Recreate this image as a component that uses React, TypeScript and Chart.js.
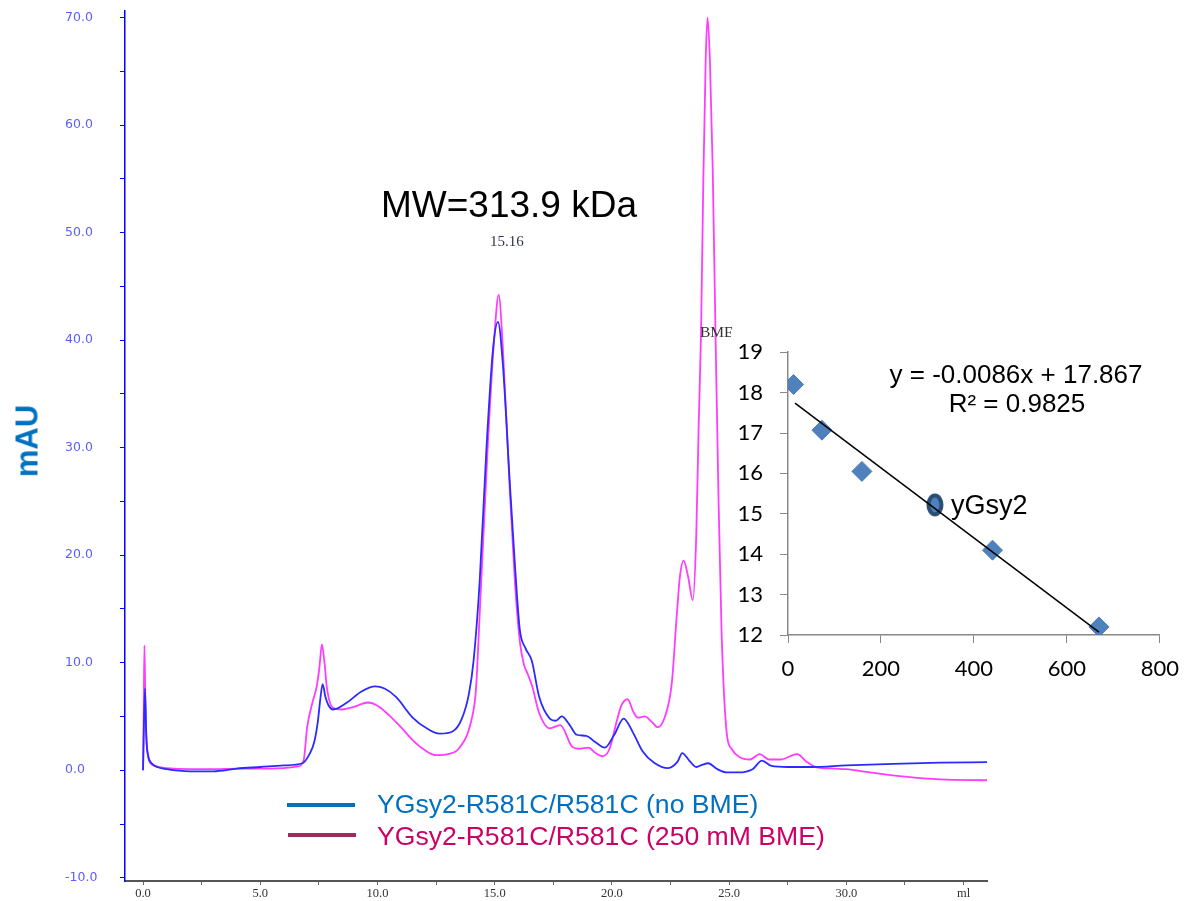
import React, { useEffect, useRef } from 'react';
import { Chart, registerables } from 'chart.js';
Chart.register(...registerables);

// Elution volume (ml), absorbance (mAU)
const noBmeTrace: [number, number][] = [
  [0, 0], [0.04, 4.5], [0.085, 7.6], [0.14, 3.0], [0.22, 1.3], [0.35, 0.7], [0.6, 0.3], [1.0, 0.1],
  [2.0, -0.1], [3.0, -0.1], [4.0, 0.15], [5.0, 0.3], [6.0, 0.45], [6.8, 0.65], [7.1, 1.5], [7.3, 2.6],
  [7.46, 4.6], [7.56, 6.6], [7.66, 8.0], [7.78, 6.8], [7.92, 6.0], [8.1, 5.65], [8.7, 6.3], [9.3, 7.3],
  [9.9, 7.8], [10.3, 7.6], [10.8, 6.8], [11.5, 4.9], [12.1, 3.9], [12.66, 3.4], [13.2, 3.6], [13.6, 4.8],
  [13.9, 7.1], [14.1, 10.2], [14.36, 17.6], [14.65, 30], [14.93, 39.2], [15.14, 41.7], [15.35, 37.7],
  [15.64, 26.9], [15.86, 19.2], [16.07, 13.1], [16.3, 11.4], [16.58, 10.2], [16.9, 6.8], [17.35, 4.8],
  [17.6, 4.6], [17.86, 5.0], [18.2, 4.2], [18.5, 3.3], [18.9, 3.2], [19.3, 2.6], [19.7, 2.1], [20.1, 3.3],
  [20.5, 4.8], [20.9, 3.5], [21.3, 1.8], [21.8, 0.7], [22.4, 0.2], [22.8, 0.8], [23.0, 1.6], [23.3, 0.9],
  [23.6, 0.3], [23.85, 0.5], [24.1, 0.65], [24.5, 0.1], [24.9, -0.2], [25.4, -0.2], [26.0, 0.1], [26.4, 0.9],
  [26.8, 0.4], [27.5, 0.3], [28.5, 0.3], [30, 0.45], [32, 0.6], [34, 0.7], [36, 0.75],
];

const bmeTrace: [number, number][] = [
  [0, 0], [0.03, 6], [0.06, 11.6], [0.1, 6], [0.16, 2.5], [0.25, 1.0], [0.4, 0.5], [0.7, 0.3], [1.0, 0.2],
  [2, 0.1], [3, 0.1], [4, 0.15], [5, 0.15], [6, 0.2], [6.6, 0.35], [6.85, 0.9], [7.0, 4.0], [7.25, 6.5],
  [7.4, 7.7], [7.52, 9.5], [7.63, 11.7], [7.74, 10], [7.84, 7.7], [8.1, 5.8], [8.5, 5.65], [9.0, 5.9],
  [9.6, 6.3], [10.0, 6.0], [10.5, 5.1], [11.0, 4.0], [11.5, 2.8], [12.0, 1.9], [12.5, 1.4], [13.0, 1.5],
  [13.5, 2.1], [14.0, 4.6], [14.2, 7.5], [14.36, 14.5], [14.7, 30], [15.0, 40.8], [15.17, 44.2],
  [15.35, 39.2], [15.64, 26.2], [15.86, 17.6], [16.07, 12], [16.25, 9.8], [16.4, 9.0], [16.6, 7.8],
  [16.9, 5.3], [17.35, 3.9], [17.8, 4.2], [18.3, 2.2], [18.6, 2.0], [19.0, 2.1], [19.3, 1.6], [19.6, 1.3],
  [19.9, 2.0], [20.2, 4.5], [20.4, 6.0], [20.67, 6.6], [20.9, 5.5], [21.1, 4.9], [21.4, 5.0], [21.7, 4.5],
  [21.95, 4.0], [22.25, 4.9], [22.55, 8], [22.76, 14.2], [22.9, 18], [23.06, 19.5], [23.25, 18],
  [23.45, 15.8], [23.6, 22], [23.7, 32], [23.8, 40.5], [23.9, 55], [24.0, 66], [24.08, 70], [24.18, 66],
  [24.3, 55.9], [24.42, 40.5], [24.55, 25], [24.68, 12.7], [24.9, 3.4], [25.1, 2.0], [25.45, 1.2],
  [25.9, 1.0], [26.3, 1.5], [26.7, 1.0], [27.2, 1.0], [27.9, 1.5], [28.3, 0.8], [28.7, 0.3], [29.5, 0.15],
  [30.0, 0.1], [31.0, -0.2], [32.5, -0.6], [34, -0.85], [36, -0.93],
];

const xTickValues = [0, 2.5, 5, 7.5, 10, 12.5, 15, 17.5, 20, 22.5, 25, 27.5, 30, 32.5, 35];
const xTickLabels = ['0.0', '', '5.0', '', '10.0', '', '15.0', '', '20.0', '', '25.0', '', '30.0', '', 'ml'];
const yTickValues = [-10, -5, 0, 5, 10, 15, 20, 25, 30, 35, 40, 45, 50, 55, 60, 65, 70];
const yTickLabels = ['-10.0', '', '0.0', '', '10.0', '', '20.0', '', '30.0', '', '40.0', '', '50.0', '', '60.0', '', '70.0'];

// Inset: calibration standards (MW kDa vs elution volume ml)
const standardMw = [12, 73, 159, 440, 669];
const standardVe = [18.2, 17.07, 16.05, 14.1, 12.2];
const sampleMw = [316];
const sampleVe = [15.22];
const fitMw = [15, 669];
const fitVe = [17.74, 12.07];
const insetXTicks = [0, 200, 400, 600, 800];
const insetYTicks = [12, 13, 14, 15, 16, 17, 18, 19];

const sans = '"Liberation Sans", Arial, sans-serif';
const serif = '"Liberation Serif", "Times New Roman", serif';

function Txt(props: { x: number; base: number; size: number; color: string; font?: string; center?: boolean; bold?: boolean; children: React.ReactNode }) {
  const font = props.font || sans;
  const k = font === serif ? 0.8375 : 0.8465;
  return (
    <div
      style={{
        position: 'absolute',
        left: props.x,
        top: props.base - k * props.size,
        fontFamily: font,
        fontSize: props.size,
        lineHeight: 1,
        color: props.color,
        whiteSpace: 'nowrap',
        fontWeight: props.bold ? 'bold' : 'normal',
        transform: props.center ? 'translateX(-50%)' : undefined,
      }}
    >
      {props.children}
    </div>
  );
}

export default function App() {
  const mainRef = useRef<HTMLCanvasElement>(null);
  const insetRef = useRef<HTMLCanvasElement>(null);

  useEffect(() => {
    const main = new Chart(mainRef.current!, {
      type: 'line',
      data: {
        datasets: [
          {
            label: 'YGsy2-R581C/R581C (no BME)',
            data: noBmeTrace.map(([x, y]) => ({ x, y })),
            borderColor: '#2b2bff',
            borderWidth: 1.8,
            pointRadius: 0,
            cubicInterpolationMode: 'monotone',
            fill: false,
          },
          {
            label: 'YGsy2-R581C/R581C (250 mM BME)',
            data: bmeTrace.map(([x, y]) => ({ x, y })),
            borderColor: '#ff3cff',
            borderWidth: 1.8,
            pointRadius: 0,
            cubicInterpolationMode: 'monotone',
            fill: false,
          },
        ],
      },
      options: {
        responsive: false,
        animation: false,
        devicePixelRatio: 1,
        layout: { padding: { left: 65, right: 204, top: 8, bottom: 0 } },
        plugins: { legend: { display: false }, tooltip: { enabled: false } },
        scales: {
          x: {
            type: 'linear',
            min: -0.77,
            max: 36,
            afterBuildTicks: (s: any) => { s.ticks = xTickValues.map((v) => ({ value: v })); },
            afterFit: (s: any) => { s.height = 20; },
            ticks: {
              autoSkip: false,
              maxRotation: 0,
              padding: 1,
              color: '#333',
              font: { family: serif, size: 12.5 },
              callback: (v: any) => xTickLabels[xTickValues.indexOf(Number(v))] ?? '',
            },
            grid: { drawOnChartArea: false, drawTicks: true, tickLength: 4, color: '#666' },
            border: { color: '#555', width: 2 },
          },
          y: {
            type: 'linear',
            min: -10.3,
            max: 70.65,
            afterBuildTicks: (s: any) => { s.ticks = yTickValues.map((v) => ({ value: v })); },
            afterFit: (s: any) => { s.width = 60; },
            ticks: {
              autoSkip: false,
              crossAlign: 'far',
              color: '#5c5cff',
              font: { family: '"DejaVu Sans", sans-serif', size: 12.5 },
              callback: (v: any) => yTickLabels[yTickValues.indexOf(Number(v))] ?? '',
            },
            grid: { drawOnChartArea: false, drawTicks: true, tickLength: 5, color: '#0000ff' },
            border: { color: '#0000ff', width: 1.5 },
          },
        },
      },
    } as any);

    const oval = document.createElement('canvas');
    oval.width = 20;
    oval.height = 26;
    const octx = oval.getContext('2d')!;
    octx.beginPath();
    octx.ellipse(10, 13, 6.5, 9.5, 0, 0, Math.PI * 2);
    octx.fillStyle = '#4F81BD';
    octx.fill();
    octx.lineWidth = 4;
    octx.strokeStyle = '#2C4D75';
    octx.stroke();

    const inset = new Chart(insetRef.current!, {
      type: 'scatter',
      data: {
        datasets: [
          {
            label: 'fit',
            data: fitMw.map((x, i) => ({ x, y: fitVe[i] })),
            showLine: true,
            borderColor: '#000',
            borderWidth: 1.5,
            pointRadius: 0,
          },
          {
            label: 'yGsy2',
            data: sampleMw.map((x, i) => ({ x, y: sampleVe[i] })),
            pointStyle: oval,
            pointRadius: 10,
          },
          {
            label: 'standards',
            data: standardMw.map((x, i) => ({ x, y: standardVe[i] })),
            pointStyle: 'rectRot',
            pointRadius: 10,
            backgroundColor: '#4F81BD',
            borderColor: '#4A7EBB',
            borderWidth: 1,
          },
        ],
      },
      options: {
        responsive: false,
        animation: false,
        devicePixelRatio: 1,
        layout: { padding: { left: 0, right: 26, top: 4, bottom: 0 } },
        plugins: { legend: { display: false }, tooltip: { enabled: false } },
        scales: {
          x: {
            type: 'linear',
            min: 0,
            max: 800,
            afterBuildTicks: (s: any) => { s.ticks = insetXTicks.map((v) => ({ value: v })); },
            afterFit: (s: any) => { s.height = 60; },
            ticks: { color: '#000', padding: 13, maxRotation: 0, font: { family: 'Lato, sans-serif', size: 22 } },
            grid: { drawOnChartArea: false, drawTicks: true, tickLength: 8, color: '#888' },
            border: { color: '#888', width: 1.5 },
          },
          y: {
            type: 'linear',
            min: 12,
            max: 19,
            afterBuildTicks: (s: any) => { s.ticks = insetYTicks.map((v) => ({ value: v })); },
            afterFit: (s: any) => { s.width = 57; },
            ticks: { color: '#000', padding: 17, font: { family: 'Lato, sans-serif', size: 22 } },
            grid: { drawOnChartArea: false, drawTicks: true, tickLength: 8, color: '#888' },
            border: { color: '#888', width: 1.5 },
          },
        },
      },
    } as any);

    return () => {
      main.destroy();
      inset.destroy();
    };
  }, []);

  return (
    <div style={{ position: 'absolute', left: 0, top: 0, width: 1191, height: 901, background: '#fff', overflow: 'hidden' }}>
      <canvas ref={mainRef} width={1191} height={901} style={{ position: 'absolute', left: 0, top: 0 }} />
      <div
        style={{
          position: 'absolute',
          left: 27,
          top: 441,
          transform: 'translate(-50%, -50%) rotate(-90deg)',
          fontFamily: sans,
          fontWeight: 'bold',
          fontSize: 31,
          lineHeight: 1,
          color: '#0070C0',
          whiteSpace: 'nowrap',
        }}
      >
        mAU
      </div>
      <Txt x={381} base={217} size={37} color="#000">MW=313.9 kDa</Txt>
      <Txt x={490} base={247} size={15} color="#333352" font={serif}>15.16</Txt>
      <Txt x={700} base={337} size={15.5} color="#333" font={serif}>BME</Txt>

      <div style={{ position: 'absolute', left: 287, top: 803, width: 68, height: 4, background: '#0070C0' }} />
      <div style={{ position: 'absolute', left: 288, top: 833, width: 68, height: 4, background: '#A02B5F' }} />
      <Txt x={377} base={814} size={26.6} color="#0070C0">YGsy2-R581C/R581C (no BME)</Txt>
      <Txt x={377} base={846} size={26.6} color="#CC0066">YGsy2-R581C/R581C (250 mM BME)</Txt>

      <div style={{ position: 'absolute', left: 731, top: 335, width: 470, height: 360, background: '#fff' }}>
        <canvas ref={insetRef} width={461} height={373} style={{ position: 'absolute', left: 0, top: -13 }} />
        <Txt x={1016 - 731} base={383 - 335} size={26} color="#000" center>y = -0.0086x + 17.867</Txt>
        <Txt x={1017 - 731} base={412 - 335} size={26} color="#000" center>R² = 0.9825</Txt>
        <Txt x={951 - 731} base={515 - 335} size={27} color="#000">yGsy2</Txt>
      </div>
    </div>
  );
}
